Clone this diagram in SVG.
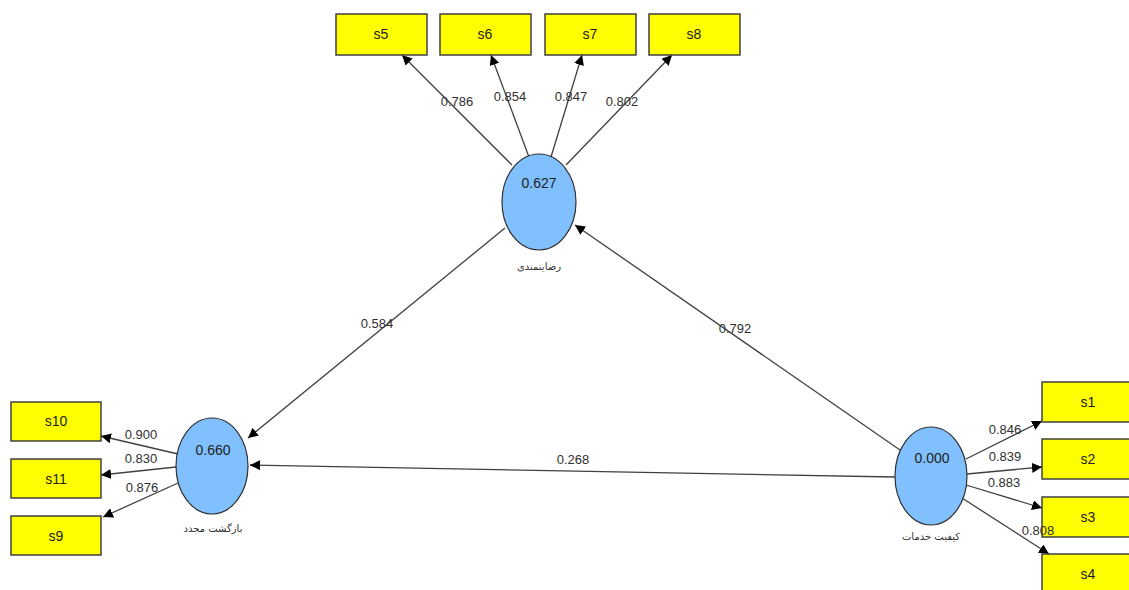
<svg xmlns="http://www.w3.org/2000/svg" width="1129" height="590" viewBox="0 0 1129 590">
<defs>
<marker id="ah" viewBox="0 0 10 10" refX="10" refY="5" markerWidth="10" markerHeight="10" markerUnits="userSpaceOnUse" orient="auto">
<path d="M0,0 L10,5 L0,10 z" fill="#000"/>
</marker>
</defs>
<style>
.box{fill:#ffff00;stroke:#404040;stroke-width:1.5}
.lv{fill:#80c0ff;stroke:#303030;stroke-width:1.2}
.t{font-family:"Liberation Sans",Arial,sans-serif;font-size:14px;fill:#202020;text-anchor:middle}
.lbl{font-family:"Liberation Sans",Arial,sans-serif;font-size:13px;fill:#303030;text-anchor:middle}
.fa{font-family:"DejaVu Sans","Noto Sans",sans-serif;font-size:10px;fill:#303030;text-anchor:middle}
.c{stroke:#404040;stroke-width:1.3;fill:none;marker-end:url(#ah)}
</style>
<rect width="1129" height="590" fill="#fff"/>
<g id="connectors">
<line class="c" x1="512" y1="165" x2="402" y2="55"/>
<line class="c" x1="529" y1="157" x2="491" y2="55"/>
<line class="c" x1="551" y1="157" x2="582" y2="55"/>
<line class="c" x1="566" y1="165" x2="672" y2="55"/>
<line class="c" x1="505" y1="228" x2="248" y2="438"/>
<line class="c" x1="900" y1="450" x2="575" y2="225"/>
<line class="c" x1="895" y1="477" x2="250" y2="465"/>
<line class="c" x1="178" y1="454" x2="101" y2="436"/>
<line class="c" x1="176" y1="467" x2="101" y2="475"/>
<line class="c" x1="178" y1="483" x2="103" y2="517"/>
<line class="c" x1="966" y1="459" x2="1042" y2="421"/>
<line class="c" x1="967" y1="474" x2="1042" y2="467"/>
<line class="c" x1="966" y1="485" x2="1042" y2="508"/>
<line class="c" x1="962" y1="498" x2="1049" y2="554"/>
</g>
<g id="s5"><rect class="box" x="336" y="14" width="91" height="41"/><text class="t" x="381" y="39">s5</text></g>
<g id="s6"><rect class="box" x="440" y="14" width="91" height="41"/><text class="t" x="485" y="39">s6</text></g>
<g id="s7"><rect class="box" x="545" y="14" width="91" height="41"/><text class="t" x="590" y="39">s7</text></g>
<g id="s8"><rect class="box" x="649" y="14" width="91" height="41"/><text class="t" x="694" y="39">s8</text></g>
<g id="s10"><rect class="box" x="11" y="402" width="90" height="39"/><text class="t" x="56" y="426">s10</text></g>
<g id="s11"><rect class="box" x="11" y="459" width="90" height="39"/><text class="t" x="56" y="484">s11</text></g>
<g id="s9"><rect class="box" x="11" y="516" width="90" height="39"/><text class="t" x="56" y="541">s9</text></g>
<g id="s1"><rect class="box" x="1042" y="382" width="95" height="40"/><text class="t" x="1088" y="407">s1</text></g>
<g id="s2"><rect class="box" x="1042" y="439" width="95" height="40"/><text class="t" x="1088" y="464">s2</text></g>
<g id="s3"><rect class="box" x="1042" y="497" width="95" height="40"/><text class="t" x="1088" y="522">s3</text></g>
<g id="s4"><rect class="box" x="1042" y="554" width="95" height="40"/><text class="t" x="1088" y="579">s4</text></g>
<g id="satisfaction"><ellipse class="lv" cx="539" cy="202" rx="37" ry="48"/><text class="t" x="539" y="188">0.627</text><text class="fa" x="539" y="270">رضایتمندی</text></g>
<g id="return"><ellipse class="lv" cx="212" cy="466" rx="36" ry="48"/><text class="t" x="213" y="455">0.660</text><text class="fa" x="213" y="532">بازگشت مجدد</text></g>
<g id="quality"><ellipse class="lv" cx="931" cy="476" rx="36" ry="49"/><text class="t" x="932" y="463">0.000</text><text class="fa" x="931" y="540">کیفیت خدمات</text></g>
<g id="connector-labels">
<text class="lbl" x="457" y="106">0.786</text>
<text class="lbl" x="510" y="101">0.854</text>
<text class="lbl" x="571" y="101">0.847</text>
<text class="lbl" x="622" y="106">0.802</text>
<text class="lbl" x="377" y="328">0.584</text>
<text class="lbl" x="735" y="333">0.792</text>
<text class="lbl" x="573" y="464">0.268</text>
<text class="lbl" x="141" y="439">0.900</text>
<text class="lbl" x="141" y="463">0.830</text>
<text class="lbl" x="142" y="492">0.876</text>
<text class="lbl" x="1005" y="434">0.846</text>
<text class="lbl" x="1005" y="461">0.839</text>
<text class="lbl" x="1004" y="487">0.883</text>
<text class="lbl" x="1038" y="535">0.808</text>
</g>
</svg>
